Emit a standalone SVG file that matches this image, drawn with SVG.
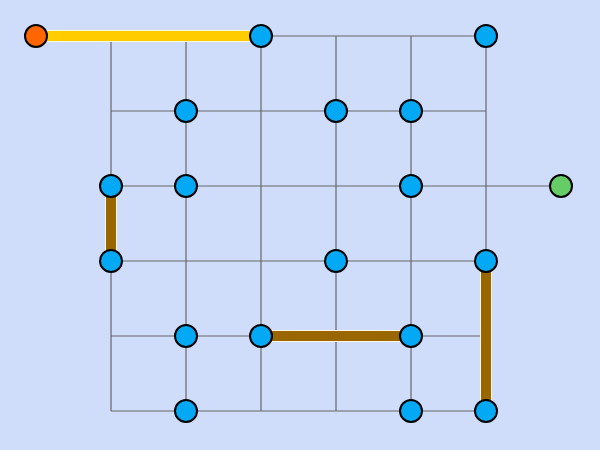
<svg xmlns="http://www.w3.org/2000/svg" width="600" height="450" viewBox="0 0 600 450">
<style>
.grid line{stroke:#666;stroke-width:1.2;fill:none}
.halo{stroke:#fff8e0;stroke-width:12;stroke-linecap:butt}
.y{stroke:#ffcc00;stroke-width:10}
.b{stroke:#996600;stroke-width:10}
.n{fill:#03a9f4;stroke:#000;stroke-width:2}
.s{fill:#ff6600;stroke:#000;stroke-width:2}
.t{fill:#66cc66;stroke:#000;stroke-width:2}
</style>
<rect width="600" height="450" fill="#cfddfb"/>
<g id="connectors">
<g class="grid">
<line x1="36" y1="36" x2="486" y2="36"/>
<line x1="111" y1="111" x2="486" y2="111"/>
<line x1="111" y1="186" x2="561" y2="186"/>
<line x1="111" y1="261" x2="486" y2="261"/>
<line x1="111" y1="336" x2="486" y2="336"/>
<line x1="111" y1="411" x2="486" y2="411"/>
<line x1="111" y1="36" x2="111" y2="411"/>
<line x1="186" y1="36" x2="186" y2="411"/>
<line x1="261" y1="36" x2="261" y2="411"/>
<line x1="336" y1="36" x2="336" y2="411"/>
<line x1="411" y1="36" x2="411" y2="411"/>
<line x1="486" y1="36" x2="486" y2="411"/>
</g>
<line class="halo" x1="36" y1="36" x2="261" y2="36"/>
<line class="halo" x1="111" y1="186" x2="111" y2="261"/>
<line class="halo" x1="261" y1="336" x2="411" y2="336"/>
<line class="halo" x1="486" y1="261" x2="486" y2="411"/>
<line class="y" x1="36" y1="36" x2="261" y2="36"/>
<line class="b" x1="111" y1="186" x2="111" y2="261"/>
<line class="b" x1="261" y1="336" x2="411" y2="336"/>
<line class="b" x1="486" y1="261" x2="486" y2="411"/>
</g>
<g id="start"><circle class="s" cx="36" cy="36" r="11"/></g>
<g id="goal"><circle class="t" cx="561" cy="186" r="11"/></g>
<g id="n1"><circle class="n" cx="261" cy="36" r="11"/></g>
<g id="n2"><circle class="n" cx="486" cy="36" r="11"/></g>
<g id="n3"><circle class="n" cx="186" cy="111" r="11"/></g>
<g id="n4"><circle class="n" cx="336" cy="111" r="11"/></g>
<g id="n5"><circle class="n" cx="411" cy="111" r="11"/></g>
<g id="n6"><circle class="n" cx="111" cy="186" r="11"/></g>
<g id="n7"><circle class="n" cx="186" cy="186" r="11"/></g>
<g id="n8"><circle class="n" cx="411" cy="186" r="11"/></g>
<g id="n9"><circle class="n" cx="111" cy="261" r="11"/></g>
<g id="n10"><circle class="n" cx="336" cy="261" r="11"/></g>
<g id="n11"><circle class="n" cx="486" cy="261" r="11"/></g>
<g id="n12"><circle class="n" cx="186" cy="336" r="11"/></g>
<g id="n13"><circle class="n" cx="261" cy="336" r="11"/></g>
<g id="n14"><circle class="n" cx="411" cy="336" r="11"/></g>
<g id="n15"><circle class="n" cx="186" cy="411" r="11"/></g>
<g id="n16"><circle class="n" cx="411" cy="411" r="11"/></g>
<g id="n17"><circle class="n" cx="486" cy="411" r="11"/></g>
</svg>
